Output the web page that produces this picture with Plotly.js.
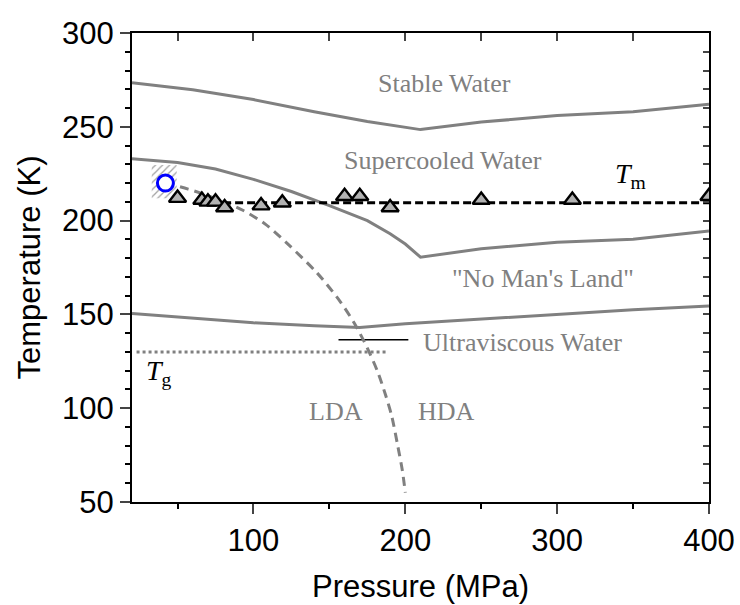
<!DOCTYPE html>
<html>
<head>
<meta charset="utf-8">
<script src="https://cdn.plot.ly/plotly-3.0.1.min.js"></script>
<style>html,body{margin:0;padding:0;background:#fff;}#chart{width:740px;height:605px;}</style>
</head>
<body>
<div id="chart"></div>
<script>
// Phase boundaries (Pressure MPa, Temperature K)
const stableP = [20, 60, 100, 140, 175, 210, 250, 300, 350, 400];
const stableT = [273.5, 269.8, 264.5, 258, 252.8, 248.5, 252.5, 256, 258, 262];

const supercooledP = [20, 50, 75, 100, 125, 150, 175, 190, 200, 210, 250, 300, 350, 400];
const supercooledT = [233, 231, 227.5, 222, 215.5, 208, 200, 193, 187.5, 180.5, 185, 188.5, 190, 194.5];

const glassP = [20, 50, 100, 140, 170, 200, 250, 300, 350, 400];
const glassT = [150.5, 148.5, 145.5, 144, 143, 145, 147.5, 150, 152.5, 154.5];

const ldaP = [42, 57, 75, 93, 108, 122, 142, 157, 167, 175, 182, 187, 191, 195, 198, 200];
const ldaT = [220, 216.8, 211.8, 205.5, 198, 188, 172, 157, 144.5, 132, 119, 107, 96, 80, 67, 55];

// Melting temperature data
const tmP = [50, 66, 70, 75, 81, 105, 119, 160, 170, 190, 250, 310, 400];
const tmT = [212, 211, 210, 210, 207, 208, 209.5, 213, 213, 207, 211, 211, 213];
const tmLineP = [80, 400];
const tmLineT = [209.5, 209.5];

const tgLineP = [23, 187];
const tgLineT = [130, 130];

const leaderP = [156, 202];
const leaderT = [136.5, 136.5];

const circleP = [42];
const circleT = [220];

const hatchP = [33, 49.4, 49.4, 33, 33];
const hatchT = [211.9, 211.9, 229.6, 229.6, 211.9];

const grey = '#808080';

const traces = [
  {x: hatchP, y: hatchT, mode: 'lines', fill: 'toself', line: {width: 0, color: 'rgba(0,0,0,0)'},
   fillcolor: 'rgba(0,0,0,0)',
   fillpattern: {shape: '/', size: 5, solidity: 0.25, fgcolor: '#a0a0a0', bgcolor: 'rgba(255,255,255,0)'}},
  {x: stableP, y: stableT, mode: 'lines', line: {color: grey, width: 3}},
  {x: supercooledP, y: supercooledT, mode: 'lines', line: {color: grey, width: 3}},
  {x: glassP, y: glassT, mode: 'lines', line: {color: grey, width: 3}},
  {x: tgLineP, y: tgLineT, mode: 'lines', line: {color: grey, width: 3, dash: '3px,3px'}},
  {x: leaderP, y: leaderT, mode: 'lines', line: {color: '#000', width: 1.5}},
  {x: ldaP, y: ldaT, mode: 'lines', line: {color: grey, width: 3, dash: '9px,6px', shape: 'spline', smoothing: 0.8}},
  {x: tmLineP, y: tmLineT, mode: 'lines', line: {color: '#000', width: 3, dash: '8px,4px'}},
  {x: tmP, y: tmT, mode: 'markers', marker: {symbol: 'triangle-up', size: 15, color: '#b2b2b2', line: {color: '#000', width: 2.4}}},
  {x: circleP, y: circleT, mode: 'markers', marker: {symbol: 'circle', size: 16, color: '#fff', line: {color: '#0000ff', width: 3}}},
  {x: [null], y: [null], xaxis: 'x2', yaxis: 'y2', mode: 'markers', hoverinfo: 'skip'}
];

const serif = 'Liberation Serif, Times New Roman, serif';
const sans = 'Liberation Sans, Arial, sans-serif';
function lab(text, x, y, color, size) {
  return {text: text, x: x, y: y, xref: 'x', yref: 'y', showarrow: false,
          font: {family: serif, size: size || 26, color: color || grey}};
}

const layout = {
  width: 740, height: 605,
  margin: {l: 132, r: 31, t: 33, b: 103},
  paper_bgcolor: '#fff', plot_bgcolor: '#fff',
  showlegend: false,
  xaxis: {
    range: [20, 400], tickvals: [100, 200, 300, 400], ticks: 'outside', ticklen: 10, tickwidth: 2,
    minor: {tickvals: [50, 150, 250, 350], ticks: 'outside', ticklen: 5, tickwidth: 2, tickcolor: '#000'},
    showline: true, linewidth: 2, linecolor: '#000', showgrid: false, zeroline: false,
    tickfont: {family: sans, size: 31, color: '#000'},
    title: {text: 'Pressure (MPa)', font: {family: sans, size: 31, color: '#000'}, standoff: 18}
  },
  yaxis: {
    range: [50, 300], dtick: 50, ticks: 'outside', ticklen: 10, tickwidth: 2,
    minor: {dtick: 10, ticks: 'outside', ticklen: 5, tickwidth: 2, tickcolor: '#000'},
    showline: true, linewidth: 2, linecolor: '#000', showgrid: false, zeroline: false,
    tickfont: {family: sans, size: 31, color: '#000'},
    title: {text: 'Temperature (K)', font: {family: sans, size: 31, color: '#000'}, standoff: 12}
  },
  xaxis2: {
    overlaying: 'x', side: 'top', range: [20, 400], dtick: 50, tick0: 0, ticks: 'inside', ticklen: 8, tickwidth: 2,
    showticklabels: false, showline: true, linewidth: 2, linecolor: '#000', showgrid: false, zeroline: false
  },
  yaxis2: {
    overlaying: 'y', side: 'right', range: [50, 300], dtick: 10, ticks: 'inside', ticklen: 6, tickwidth: 2,
    showticklabels: false, showline: true, linewidth: 2, linecolor: '#000', showgrid: false, zeroline: false
  },
  annotations: [
    lab('Stable Water', 226, 273.3),
    lab('Supercooled Water', 225, 232.3),
    lab('"No Man\'s Land"', 291, 169.4),
    lab('Ultraviscous Water', 277, 134.8),
    lab('LDA', 154.4, 98.5),
    lab('HDA', 226.9, 98.5),
    lab('<i>T</i><sub>m</sub>', 348, 224, '#000', 28),
    lab('<i>T</i><sub>g</sub>', 38, 119, '#000', 28)
  ]
};

Plotly.newPlot('chart', traces, layout, {displayModeBar: false, staticPlot: true});
</script>
</body>
</html>
